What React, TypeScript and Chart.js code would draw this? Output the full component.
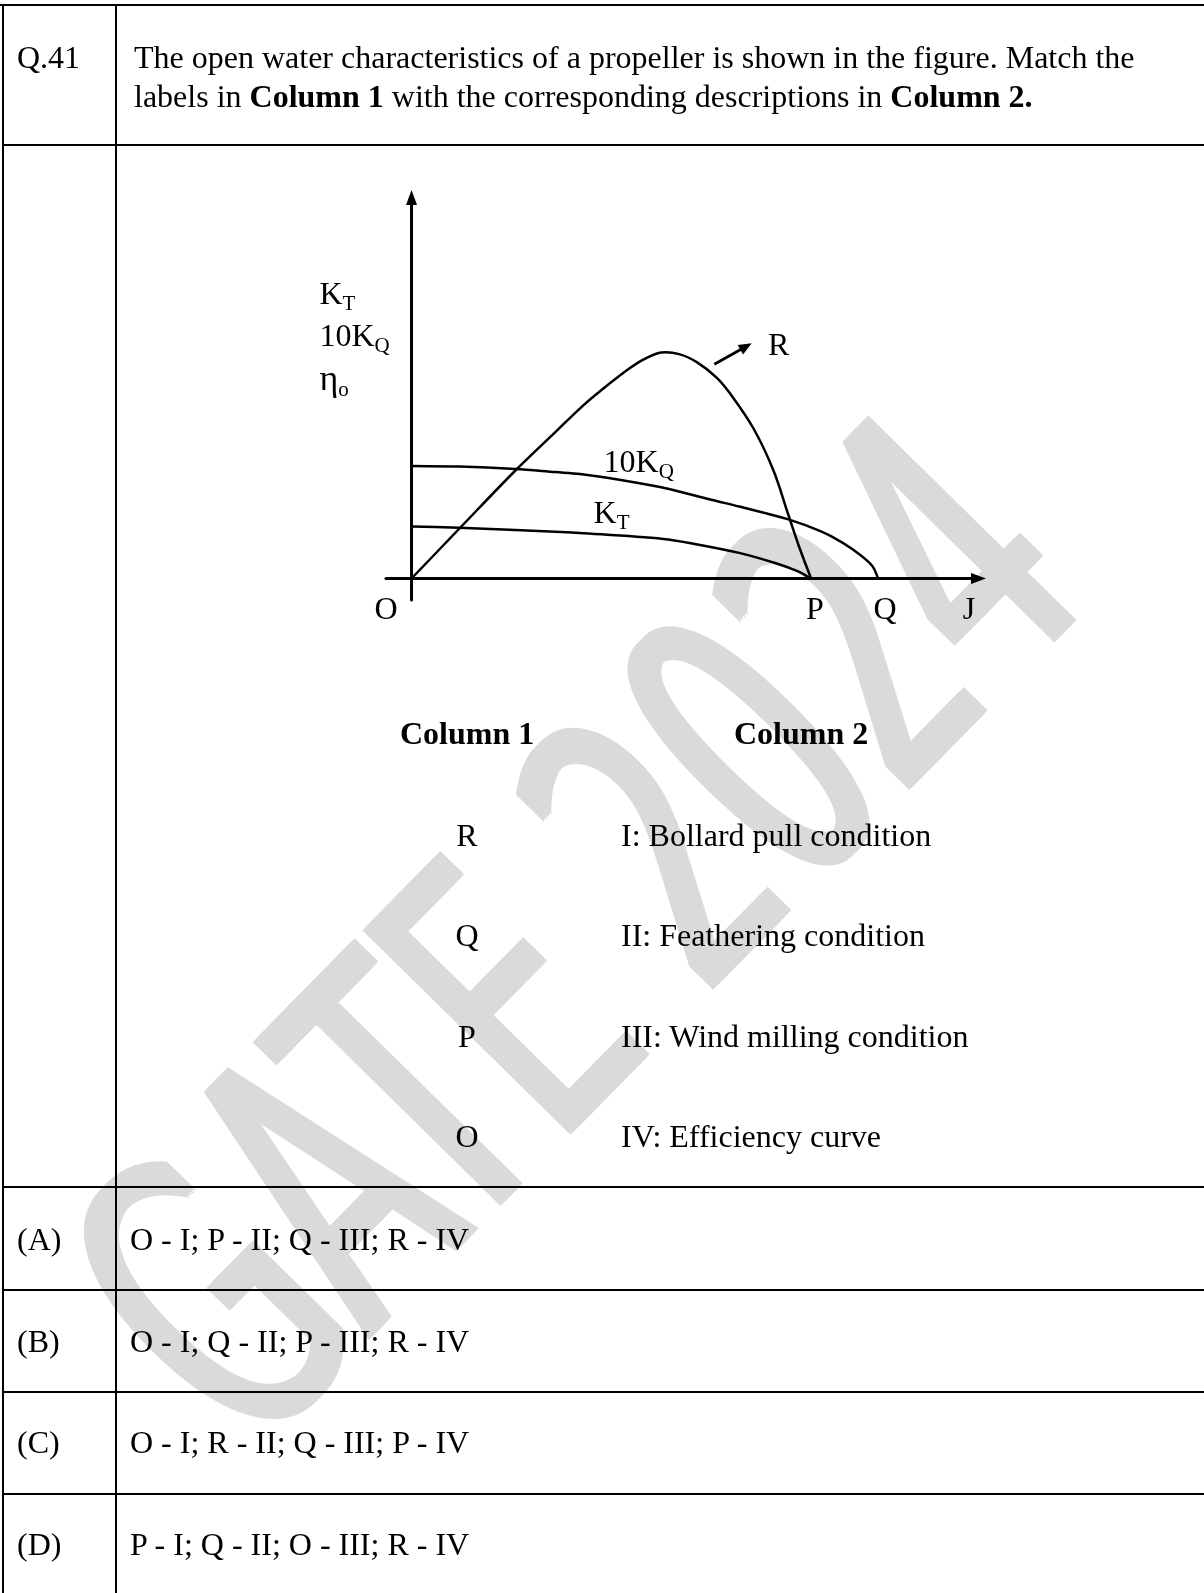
import React, { useEffect, useRef } from "react";
import { Chart, registerables } from "chart.js";

Chart.register(...registerables);

// ---------- Data (J on x, value on y) ----------
const effJ = [0, 0.12, 0.26, 0.36, 0.43, 0.48, 0.53, 0.58, 0.625, 0.67, 0.714, 0.763, 0.797, 0.856, 0.906, 0.943, 0.97, 1.0];
const effVal = [0, 0.125, 0.27, 0.366, 0.433, 0.475, 0.514, 0.547, 0.565, 0.561, 0.541, 0.503, 0.463, 0.375, 0.27, 0.16, 0.08, 0];

const kqJ = [0, 0.12, 0.26, 0.36, 0.422, 0.52, 0.625, 0.672, 0.75, 0.82, 0.939, 1.0, 1.05, 1.107, 1.153, 1.168];
const kqVal = [0.281, 0.28, 0.274, 0.266, 0.261, 0.247, 0.228, 0.217, 0.197, 0.18, 0.149, 0.128, 0.106, 0.071, 0.032, 0];

const ktJ = [0, 0.119, 0.245, 0.36, 0.42, 0.63, 0.706, 0.82, 0.912, 0.969, 1.0];
const ktVal = [0.13, 0.127, 0.122, 0.117, 0.114, 0.099, 0.087, 0.064, 0.038, 0.017, 0];

const jAxisRange = [-0.064, 1.41];
const valAxisRange = [-0.054, 0.94];

// point labels on the J axis
const pointNames = ["O", "P", "Q", "J"];
const pointJ = [-0.0638, 1.01, 1.1852, 1.3955];

// axis title pieces
const axisMain = ["K", "10K", "η"];
const axisSub = ["T", "Q", "o"];

// question content
const questionNo = "Q.41";
const col1Items = ["R", "Q", "P", "O"];
const col2Items = [
  "I: Bollard pull condition",
  "II: Feathering condition",
  "III: Wind milling condition",
  "IV: Efficiency curve",
];
const optionKeys = ["(A)", "(B)", "(C)", "(D)"];
const optionTexts = [
  "O - I; P - II; Q - III; R - IV",
  "O - I; Q - II; P - III; R - IV",
  "O - I; R - II; Q - III; P - IV",
  "P - I; Q - II; O - III; R - IV",
];
const watermark = "GATE 2024";

// ---------- layout ----------
const FONT = "'Liberation Serif', 'Times New Roman', Times, serif";
const PAGE = { width: 1204, height: 1593 };
const CANVAS = { left: 250, top: 170, width: 800, height: 480 };
const X_MIN = -0.4043;
const X_MAX = 1.5982;
const Y_MIN = -0.17875;
const Y_MAX = 1.02125;

const toPts = (xs: number[], ys: number[]) => xs.map((x, i) => ({ x, y: ys[i] }));

const decorPlugin = {
  id: "decor",
  afterDatasetsDraw(chart: any) {
    const { ctx } = chart;
    const sx = chart.scales.x;
    const sy = chart.scales.y;
    const px = (v: number) => sx.getPixelForValue(v);
    const py = (v: number) => sy.getPixelForValue(v);
    ctx.save();
    ctx.fillStyle = "#000";
    ctx.strokeStyle = "#000";

    const head = (x0: number, y0: number, x1: number, y1: number, len: number, hw: number) => {
      const a = Math.atan2(y1 - y0, x1 - x0);
      const bx = x1 - len * Math.cos(a);
      const by = y1 - len * Math.sin(a);
      ctx.beginPath();
      ctx.moveTo(x1, y1);
      ctx.lineTo(bx + hw * Math.sin(a), by - hw * Math.cos(a));
      ctx.lineTo(bx - hw * Math.sin(a), by + hw * Math.cos(a));
      ctx.closePath();
      ctx.fill();
    };

    // axis arrowheads
    head(px(0), py(0), px(1.438), py(0), 15, 5.5);
    head(px(0), py(0), px(0), py(0.971), 15, 5.5);

    // R pointer arrow
    const ax0 = px(0.758), ay0 = py(0.5355), ax1 = px(0.8515), ay1 = py(0.588);
    ctx.lineWidth = 2.8;
    ctx.beginPath();
    ctx.moveTo(ax0, ay0);
    const a = Math.atan2(ay1 - ay0, ax1 - ax0);
    ctx.lineTo(ax1 - 10 * Math.cos(a), ay1 - 10 * Math.sin(a));
    ctx.stroke();
    head(ax0, ay0, ax1, ay1, 13, 5.5);

    const label = (main: string, sub: string, xv: number, yv: number, align: string, size = 32) => {
      ctx.font = `${size}px ${FONT}`;
      const w1 = ctx.measureText(main).width;
      ctx.font = `21px ${FONT}`;
      const w2 = sub ? ctx.measureText(sub).width : 0;
      let x = px(xv);
      const y = py(yv);
      if (align === "center") x -= (w1 + w2) / 2;
      ctx.textBaseline = "alphabetic";
      ctx.textAlign = "left";
      ctx.font = `${size}px ${FONT}`;
      ctx.fillText(main, x, y);
      if (sub) {
        ctx.font = `21px ${FONT}`;
        ctx.fillText(sub, x + w1, y + 6);
      }
    };

    // axis title stack
    const axisY = [0.6863, 0.5813, 0.4713];
    axisMain.forEach((m, i) => label(m, axisSub[i], -0.2303, axisY[i], "left", i === 2 ? 36 : 32));

    // curve labels
    label("R", "", 0.8924, 0.5588, "left");
    label("10K", "Q", 0.4806, 0.267, "left");
    label("K", "T", 0.4556, 0.1378, "left");

    // points on J axis
    pointNames.forEach((n, i) => label(n, "", pointJ[i], -0.1013, "center"));

    ctx.restore();
  },
};

function ChartView() {
  const ref = useRef<HTMLCanvasElement | null>(null);
  useEffect(() => {
    if (!ref.current) return;
    const line = (data: any[], width: number, tension: number) => ({
      data,
      showLine: true,
      borderColor: "#000",
      backgroundColor: "#000",
      borderWidth: width,
      pointRadius: 0,
      fill: false,
      tension,
      borderCapStyle: "round",
      borderJoinStyle: "round",
      clip: false,
    });
    const chart = new Chart(ref.current, {
      type: "scatter",
      data: {
        datasets: [
          line([{ x: jAxisRange[0], y: 0 }, { x: jAxisRange[1], y: 0 }], 3, 0),
          line([{ x: 0, y: valAxisRange[0] }, { x: 0, y: valAxisRange[1] }], 3, 0),
          line(toPts(effJ, effVal), 2.5, 0.35),
          line(toPts(kqJ, kqVal), 2.5, 0.35),
          line(toPts(ktJ, ktVal), 2.5, 0.35),
        ] as any,
      },
      options: {
        animation: false,
        responsive: false,
        maintainAspectRatio: false,
        devicePixelRatio: 1,
        layout: { padding: 0 },
        events: [],
        plugins: { legend: { display: false }, tooltip: { enabled: false }, title: { display: false } },
        scales: {
          x: { type: "linear", min: X_MIN, max: X_MAX, display: false },
          y: { type: "linear", min: Y_MIN, max: Y_MAX, display: false },
        },
      } as any,
      plugins: [decorPlugin as any],
    });
    return () => chart.destroy();
  }, []);
  return (
    <canvas
      ref={ref}
      width={CANVAS.width}
      height={CANVAS.height}
      style={{ position: "absolute", left: CANVAS.left, top: CANVAS.top, width: CANVAS.width, height: CANVAS.height }}
    />
  );
}

// faint diagonal watermark behind the page content
function Watermark() {
  const ref = useRef<HTMLCanvasElement | null>(null);
  useEffect(() => {
    const c = ref.current;
    if (!c) return;
    const ctx = c.getContext("2d");
    if (!ctx) return;
    ctx.clearRect(0, 0, PAGE.width, PAGE.height);
    ctx.save();
    ctx.translate(567, 930);
    ctx.rotate((-45.5 * Math.PI) / 180);
    ctx.scale(0.55, 1);
    ctx.font = "400px 'DejaVu Sans', sans-serif";
    ctx.textAlign = "center";
    ctx.textBaseline = "alphabetic";
    ctx.fillStyle = "#dadada";
    [0, 6, 12, 18].forEach((dx) => ctx.fillText(watermark, dx, 146));
    ctx.restore();
    return () => ctx.clearRect(0, 0, PAGE.width, PAGE.height);
  }, []);
  return (
    <canvas
      ref={ref}
      width={PAGE.width}
      height={PAGE.height}
      style={{ position: "absolute", left: 0, top: 0, width: PAGE.width, height: PAGE.height }}
    />
  );
}

function Txt({ x, y, children, bold, center }: any) {
  return (
    <div
      style={{
        position: "absolute",
        left: x,
        top: y - 28.8,
        fontFamily: FONT,
        fontSize: 32,
        lineHeight: "36px",
        whiteSpace: "nowrap",
        fontWeight: bold ? "bold" : "normal",
        transform: center ? "translateX(-50%)" : undefined,
        color: "#000",
      }}
    >
      {children}
    </div>
  );
}

const HL = (top: number) => (
  <div key={"h" + top} style={{ position: "absolute", left: 2, top, width: 1202, height: 2, background: "#000" }} />
);

export default function App() {
  const hLines = [144, 1186, 1289, 1391, 1493];
  const rowY = [846, 946, 1047, 1147];
  const optY = [1250, 1352, 1453, 1555];
  return (
    <div
      style={{
        position: "absolute",
        left: 0,
        top: 0,
        width: PAGE.width,
        height: PAGE.height,
        background: "#fff",
      }}
    >
      <Watermark />

      {/* table rules */}
      <div style={{ position: "absolute", left: 0, top: 4, width: 1204, height: 2, background: "#000" }} />
      <div style={{ position: "absolute", left: 2, top: 4, width: 2, height: 1589, background: "#000" }} />
      <div style={{ position: "absolute", left: 115, top: 4, width: 2, height: 1589, background: "#000" }} />
      {hLines.map(HL)}

      <Txt x={17} y={67.5}>{questionNo}</Txt>
      <Txt x={134} y={67.5}>
        The open water characteristics of a propeller is shown in the figure. Match the
      </Txt>
      <Txt x={134} y={106.5}>
        labels in <b>Column 1</b> with the corresponding descriptions in <b>Column 2.</b>
      </Txt>

      <ChartView />

      <Txt x={400} y={744} bold>Column 1</Txt>
      <Txt x={734} y={744} bold>Column 2</Txt>
      {col1Items.map((c, i) => (
        <Txt key={"c1" + i} x={467} y={rowY[i]} center>{c}</Txt>
      ))}
      {col2Items.map((c, i) => (
        <Txt key={"c2" + i} x={621} y={rowY[i]}>{c}</Txt>
      ))}
      {optionKeys.map((k, i) => (
        <Txt key={"ok" + i} x={17} y={optY[i]}>{k}</Txt>
      ))}
      {optionTexts.map((t, i) => (
        <Txt key={"ot" + i} x={130} y={optY[i]}>{t}</Txt>
      ))}
    </div>
  );
}
